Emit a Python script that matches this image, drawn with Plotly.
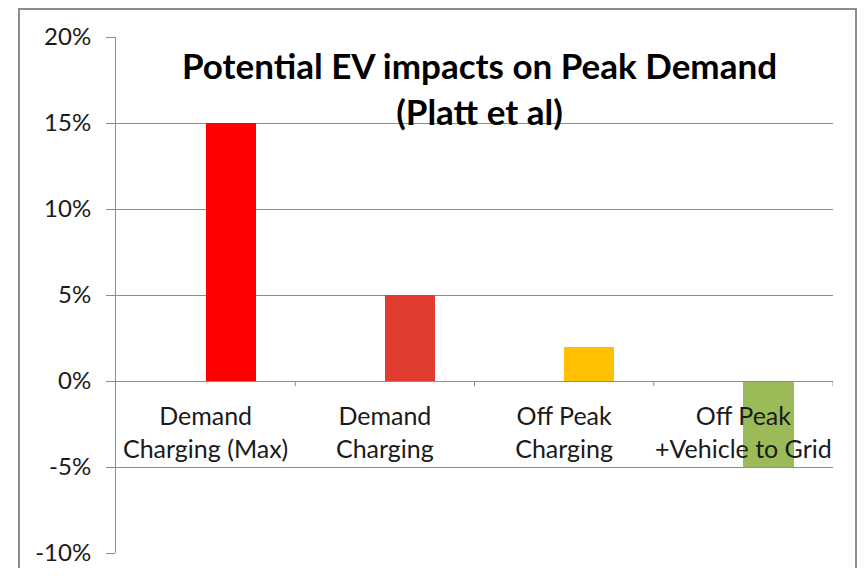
import plotly.graph_objects as go

categories = ["Demand<br>Charging (Max)", "Demand<br>Charging", "Off Peak<br>Charging", "Off Peak<br>+Vehicle to Grid"]
values = [0.15, 0.05, 0.02, -0.05]
colors = ["#FF0000", "#E03C31", "#FFC000", "#9BBB59"]
y_ticks = [-0.10, -0.05, 0.0, 0.05, 0.10, 0.15, 0.20]
y_tick_labels = ["-10%", "-5%", "0%", "5%", "10%", "15%", "20%"]

FONT = "Lato, Calibri, 'Noto Sans', sans-serif"
GRAY = "#8C8C8C"
TXT = "#1a1a1a"

fig = go.Figure()
fig.add_trace(go.Bar(
    x=list(range(len(categories))),
    y=values,
    marker=dict(color=colors, line=dict(width=0)),
    width=0.28,
    offset=0,
    showlegend=False,
    hoverinfo="skip",
))

# page offset from default body margin
OX, OY = 8, 8
FIG_W, FIG_H = 857, 560
# plot area in page px: left 116, right 833, top 37, bottom 553
L, R, T, B = 116, 833, 37, 553
W, H = R - L, B - T

def px_x(p):
    return (p - L) / W

def px_y(p):
    return (B - p) / H

ymin, ymax = -0.10, 0.20

fig.update_layout(
    width=FIG_W, height=FIG_H,
    margin=dict(l=L - OX, r=FIG_W + OX - R, t=T - OY, b=FIG_H + OY - B, pad=0, autoexpand=False),
    paper_bgcolor="white", plot_bgcolor="white",
    font=dict(family=FONT, color=TXT),
    bargap=0,
    xaxis=dict(
        type="linear",
        range=[-0.5, len(categories) - 0.5],
        tickmode="array",
        tickvals=list(range(len(categories))),
        ticktext=categories,
        showgrid=False,
        zeroline=False,
        showline=True, linecolor=GRAY, linewidth=1,
        anchor="free",
        position=(0 - ymin) / (ymax - ymin),
        ticks="", tickfont=dict(size=25, family=FONT, color=TXT),
        ticklabelstandoff=13,
        automargin=False,
        fixedrange=True,
    ),
    yaxis=dict(
        range=[ymin, ymax],
        tickmode="array",
        tickvals=y_ticks,
        ticktext=y_tick_labels,
        showgrid=True, gridcolor=GRAY, gridwidth=1,
        zeroline=False,
        showline=True, linecolor=GRAY, linewidth=1,
        ticks="outside", ticklen=9, tickcolor=GRAY,
        tickfont=dict(size=24, family=FONT, color=TXT),
        ticklabelstandoff=10,
        automargin=False,
        fixedrange=True,
    ),
    annotations=[dict(
        text="<b>Potential EV impacts on Peak Demand<br>(Platt et al)</b>",
        xref="paper", yref="paper",
        x=px_x(479), y=px_y(42),
        xanchor="center", yanchor="top",
        showarrow=False,
        font=dict(size=35, family=FONT, color="#000000"),
        align="center",
    )],
    shapes=[dict(
        type="rect", xref="paper", yref="paper",
        x0=px_x(19), x1=px_x(856), y0=px_y(600), y1=px_y(9),
        line=dict(color=GRAY, width=2), fillcolor="rgba(0,0,0,0)",
        layer="below",
    )] + [dict(
        # category boundary tick marks below the zero axis
        type="line", xref="x", yref="y",
        x0=b, x1=b, y0=0, y1=-0.003,
        line=dict(color=GRAY, width=1),
    ) for b in [0.5, 1.5, 2.5, 3.5]],
)

fig.write_html("out.html")
